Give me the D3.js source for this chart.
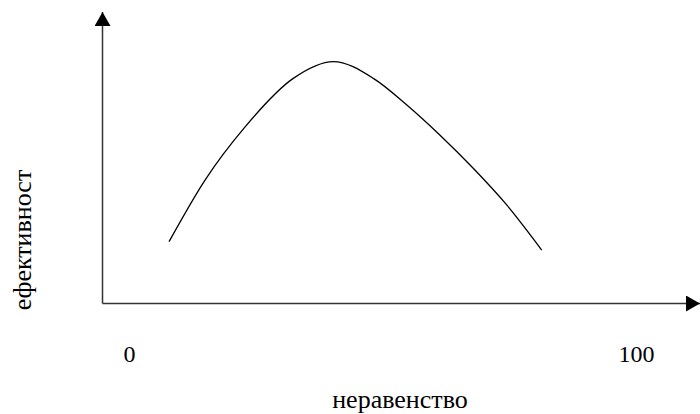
<!DOCTYPE html>
<html>
<head>
<meta charset="utf-8">
<script src="https://cdn.jsdelivr.net/npm/d3@7"></script>
<style>
  body { margin: 0; background: #fff; }
  text { font-family: "Liberation Serif", "Times New Roman", serif; fill: #000; }
</style>
</head>
<body>
<div id="chart"></div>
<script>
// x - inequality (0..100), y - efficiency (0..100)
const inequality = [7.8, 14.9, 22.8, 32.3, 40.2, 48.1, 54.7, 61.2, 67.8, 74.4, 81.3];
const efficiency = [22.1, 44.1, 63.1, 80.4, 86.4, 80.4, 70.9, 60.2, 48.3, 35.2, 19.1];
const xTicks = [0, 100];
const xTitle = 'неравенство';
const yTitle = 'ефективност';

const width = 700, height = 414;

const svg = d3.select('#chart')
    .append('svg')
    .attr('width', width)
    .attr('height', height);

// scales - tick labels sit inside the arrow axis, so the domain maps to label centres
const x = d3.scaleLinear().domain([0, 100]).range([129.5, 636.5]);
const y = d3.scaleLinear().domain([0, 100]).range([303.5, 23.5]);

const originX = 102.5, originY = 303.5;

// arrow heads
svg.append('defs').append('marker')
    .attr('id', 'arrow')
    .attr('viewBox', '0 0 14 16')
    .attr('refX', 14).attr('refY', 8)
    .attr('markerWidth', 14).attr('markerHeight', 16)
    .attr('markerUnits', 'userSpaceOnUse')
    .attr('orient', 'auto')
    .append('path')
    .attr('d', 'M0,0L14,8L0,16Z')
    .attr('fill', '#000');

// y axis
svg.append('line')
    .attr('x1', originX).attr('y1', originY)
    .attr('x2', originX).attr('y2', 12)
    .attr('stroke', '#333').attr('stroke-width', 1.5)
    .attr('marker-end', 'url(#arrow)');

// x axis
svg.append('line')
    .attr('x1', originX).attr('y1', originY)
    .attr('x2', 700).attr('y2', originY)
    .attr('stroke', '#333').attr('stroke-width', 1.5)
    .attr('marker-end', 'url(#arrow)');

// curve
const data = inequality.map((d, i) => ({ x: d, y: efficiency[i] }));
const line = d3.line()
    .x(d => x(d.x))
    .y(d => y(d.y))
    .curve(d3.curveMonotoneX);

svg.append('path')
    .datum(data)
    .attr('d', line)
    .attr('fill', 'none')
    .attr('stroke', '#000')
    .attr('stroke-width', 1.3);

// tick labels
svg.selectAll('.tick-label')
    .data(xTicks)
    .enter()
    .append('text')
    .attr('class', 'tick-label')
    .attr('x', d => x(d))
    .attr('y', 362)
    .attr('text-anchor', 'middle')
    .style('font-size', '24px')
    .text(d => d);

// axis titles
svg.append('text')
    .attr('x', 400)
    .attr('y', 408)
    .attr('text-anchor', 'middle')
    .style('font-size', '26px')
    .text(xTitle);

svg.append('text')
    .attr('transform', 'translate(31,240) rotate(-90)')
    .attr('text-anchor', 'middle')
    .style('font-size', '26px')
    .text(yTitle);
</script>
</body>
</html>
